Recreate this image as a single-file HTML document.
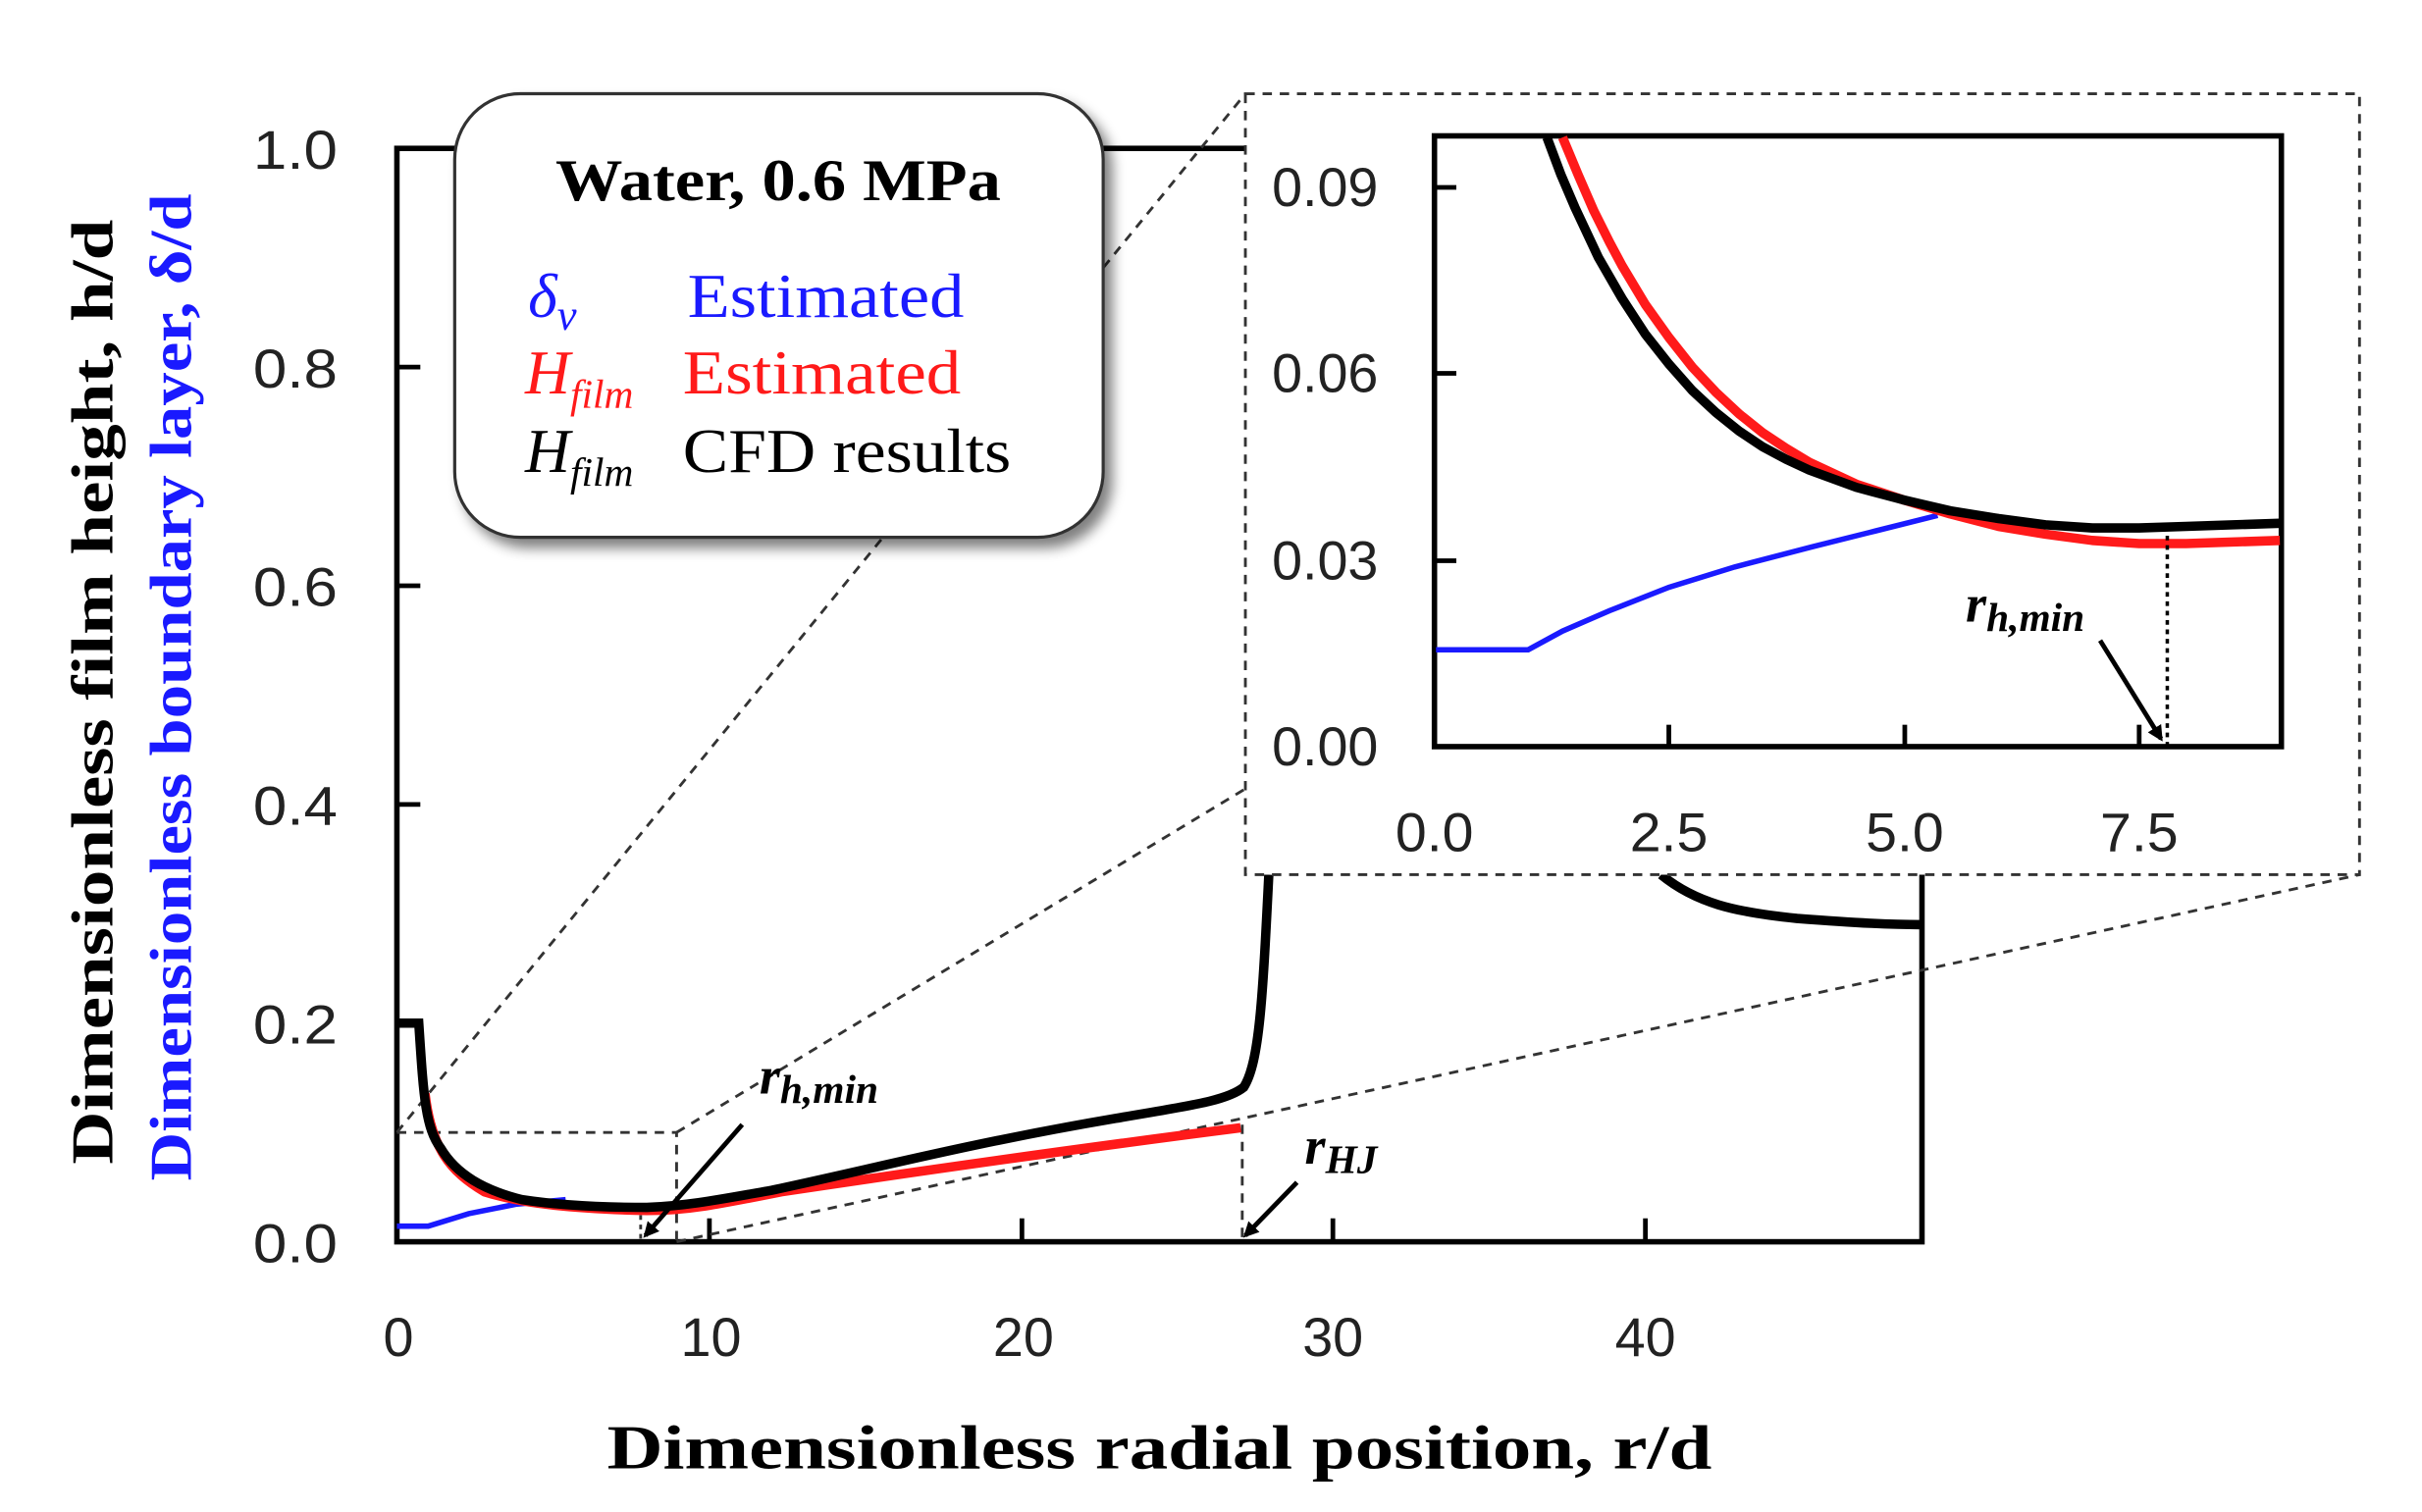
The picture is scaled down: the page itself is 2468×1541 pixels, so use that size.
<!DOCTYPE html>
<html><head><meta charset="utf-8"><style>
html,body{margin:0;padding:0;background:#fff;}
svg{display:block;}
.tk{font-family:"Liberation Sans",sans-serif;font-size:35px;fill:#222;}
.ser{font-family:"Liberation Serif",serif;}
</style></head><body>
<svg width="2468" height="1541" viewBox="0 0 1550 968" preserveAspectRatio="none" xmlns="http://www.w3.org/2000/svg">
<defs>
<filter id="sh" x="-10%" y="-10%" width="130%" height="130%"><feGaussianBlur in="SourceAlpha" stdDeviation="4"/><feOffset dx="5" dy="6"/><feComponentTransfer><feFuncA type="linear" slope="0.5"/></feComponentTransfer><feMerge><feMergeNode/><feMergeNode in="SourceGraphic"/></feMerge></filter>
<marker id="ar" markerWidth="10" markerHeight="10" refX="8" refY="5" orient="auto" markerUnits="userSpaceOnUse"><path d="M0,0 L10,5 L0,10 z" fill="#000"/></marker>
</defs>

<rect x="254" y="95" width="976" height="700" fill="none" stroke="#000" stroke-width="3.5"/>
<g stroke="#000" stroke-width="3">
<line x1="454" y1="795" x2="454" y2="780"/><line x1="654" y1="795" x2="654" y2="780"/><line x1="853" y1="795" x2="853" y2="780"/><line x1="1053" y1="795" x2="1053" y2="780"/>
<line x1="254" y1="235" x2="269" y2="235"/><line x1="254" y1="375" x2="269" y2="375"/><line x1="254" y1="515" x2="269" y2="515"/><line x1="254" y1="655" x2="269" y2="655"/>
</g>
<g class="tk" text-anchor="end">
<text x="216" y="108" textLength="54" lengthAdjust="spacingAndGlyphs">1.0</text>
<text x="216" y="248" textLength="54" lengthAdjust="spacingAndGlyphs">0.8</text>
<text x="216" y="388" textLength="54" lengthAdjust="spacingAndGlyphs">0.6</text>
<text x="216" y="528" textLength="54" lengthAdjust="spacingAndGlyphs">0.4</text>
<text x="216" y="668" textLength="54" lengthAdjust="spacingAndGlyphs">0.2</text>
<text x="216" y="808" textLength="54" lengthAdjust="spacingAndGlyphs">0.0</text>
</g>
<g class="tk" text-anchor="middle">
<text x="255" y="868">0</text><text x="455" y="868">10</text><text x="655" y="868">20</text><text x="853" y="868">30</text><text x="1053" y="868">40</text>
</g>
<text class="ser" x="742" y="940" font-size="40" font-weight="bold" text-anchor="middle" textLength="707" lengthAdjust="spacingAndGlyphs">Dimensionless radial position, r/d</text>
<text class="ser" transform="translate(72,443) rotate(-90)" font-size="38" font-weight="bold" text-anchor="middle" textLength="605" lengthAdjust="spacingAndGlyphs">Dimensionless film height, h/d</text>
<text class="ser" transform="translate(122,440) rotate(-90)" font-size="38" font-weight="bold" fill="#1a1aff" text-anchor="middle" textLength="632" lengthAdjust="spacingAndGlyphs">Dimensionless boundary layer, δ/d</text>

<g fill="none" stroke="#333" stroke-width="1.8" stroke-dasharray="6,5">
<polyline points="254,725 433,725 433,795"/>
<line x1="254" y1="725" x2="797" y2="60"/>
<line x1="433" y1="725" x2="797" y2="505"/>
<line x1="433" y1="795" x2="1510" y2="560"/>
<line x1="795" y1="720" x2="795" y2="795"/>
<line x1="410" y1="772" x2="410" y2="795" stroke-dasharray="3,3"/>
</g>

<polyline fill="none" stroke="#1a1aff" stroke-width="3.5" points="254,785 274,785 300,777 330,771 362,768"/>
<path fill="none" stroke="#ff1a1a" stroke-width="6" d="M272,700 C276,735 288,750 310,763 C335,771 370,774 414,775 C440,775 460,771 500,763 C600,748 700,734 794,722"/>
<path fill="none" stroke="#000" stroke-width="6" d="M254,655 L268,655 C271,700 272,722 282,735 C292,752 310,762 334,768 C360,772 390,773 414,773 C440,772 460,768 494,762 C560,748 620,732 714,716 C760,708 785,705 796,696 C806,680 808,640 812,560"/>
<path fill="none" stroke="#000" stroke-width="6" d="M1063,560 C1085,578 1110,584 1150,588 C1190,591 1210,592 1230,592"/>

<text class="ser" x="486" y="700" font-size="34" font-style="italic" font-weight="bold">r<tspan font-size="26" dy="6">h,min</tspan></text>
<line x1="475" y1="720" x2="413" y2="791" stroke="#000" stroke-width="3" marker-end="url(#ar)"/>
<text class="ser" x="835" y="745" font-size="34" font-style="italic" font-weight="bold">r<tspan font-size="26" dy="6">HJ</tspan></text>
<line x1="830" y1="757" x2="797" y2="791" stroke="#000" stroke-width="3" marker-end="url(#ar)"/>

<rect x="291" y="60" width="415" height="284" rx="42" ry="42" fill="#fff" stroke="#333" stroke-width="2" filter="url(#sh)"/>
<text class="ser" x="498" y="128" font-size="38" font-weight="bold" text-anchor="middle" textLength="285" lengthAdjust="spacingAndGlyphs">Water, 0.6 MPa</text>
<g class="ser" font-size="40">
<text x="338" y="203" fill="#1a1aff"><tspan font-style="italic">δ<tspan font-size="28" dy="8">v</tspan></tspan></text>
<text x="440" y="203" fill="#1a1aff" textLength="177" lengthAdjust="spacingAndGlyphs">Estimated</text>
<text x="336" y="252" fill="#ff1a1a"><tspan font-style="italic">H<tspan font-size="26" dy="9">film</tspan></tspan></text>
<text x="437" y="252" fill="#ff1a1a" textLength="178" lengthAdjust="spacingAndGlyphs">Estimated</text>
<text x="336" y="302" fill="#000"><tspan font-style="italic">H<tspan font-size="26" dy="9">film</tspan></tspan></text>
<text x="437" y="302" fill="#000" textLength="210" lengthAdjust="spacingAndGlyphs">CFD results</text>
</g>

<rect x="797" y="60" width="713" height="500" fill="#fff" stroke="#333" stroke-width="1.8" stroke-dasharray="6,5"/>
<rect x="918" y="87" width="542" height="391" fill="none" stroke="#000" stroke-width="3.5"/>
<g stroke="#000" stroke-width="3">
<line x1="1068" y1="478" x2="1068" y2="464"/><line x1="1219" y1="478" x2="1219" y2="464"/><line x1="1369" y1="478" x2="1369" y2="464"/>
<line x1="918" y1="120" x2="932" y2="120"/><line x1="918" y1="239" x2="932" y2="239"/><line x1="918" y1="359" x2="932" y2="359"/>
</g>
<g class="tk" text-anchor="end">
<text x="882" y="132" textLength="68" lengthAdjust="spacingAndGlyphs">0.09</text>
<text x="882" y="251" textLength="68" lengthAdjust="spacingAndGlyphs">0.06</text>
<text x="882" y="371" textLength="68" lengthAdjust="spacingAndGlyphs">0.03</text>
<text x="882" y="490" textLength="68" lengthAdjust="spacingAndGlyphs">0.00</text>
</g>
<g class="tk" text-anchor="middle">
<text x="918" y="545" textLength="50" lengthAdjust="spacingAndGlyphs">0.0</text>
<text x="1068" y="545" textLength="50" lengthAdjust="spacingAndGlyphs">2.5</text>
<text x="1219" y="545" textLength="50" lengthAdjust="spacingAndGlyphs">5.0</text>
<text x="1369" y="545" textLength="50" lengthAdjust="spacingAndGlyphs">7.5</text>
</g>
<polyline fill="none" stroke="#1a1aff" stroke-width="3.5" points="919,416 978,416 1000,404 1030,391 1068,376 1110,363 1160,350 1200,340 1240,330"/>
<polyline fill="none" stroke="#ff1a1a" stroke-width="6" stroke-linejoin="round" points="1000,88 1010,112 1020,135 1030,155 1038,170 1053,195 1068,216 1083,235 1098,251 1113,265 1128,277 1143,287 1158,296 1188,310 1218,320 1248,329 1279,337 1309,342 1339,346 1369,348 1399,348 1429,347 1459,346"/>
<polyline fill="none" stroke="#000" stroke-width="6" stroke-linejoin="round" points="990,88 999,112 1008,133 1023,165 1038,191 1053,214 1068,233 1083,250 1098,264 1113,276 1128,286 1143,294 1158,301 1188,312 1218,320 1248,327 1279,332 1309,336 1339,338 1369,338 1399,337 1429,336 1459,335"/>
<line x1="1387" y1="343" x2="1387" y2="478" stroke="#000" stroke-width="2.2" stroke-dasharray="3,3"/>
<text class="ser" x="1258" y="398" font-size="34" font-style="italic" font-weight="bold">r<tspan font-size="26" dy="6">h,min</tspan></text>
<line x1="1344" y1="410" x2="1383" y2="473" stroke="#000" stroke-width="3" marker-end="url(#ar)"/>
</svg>
</body></html>
